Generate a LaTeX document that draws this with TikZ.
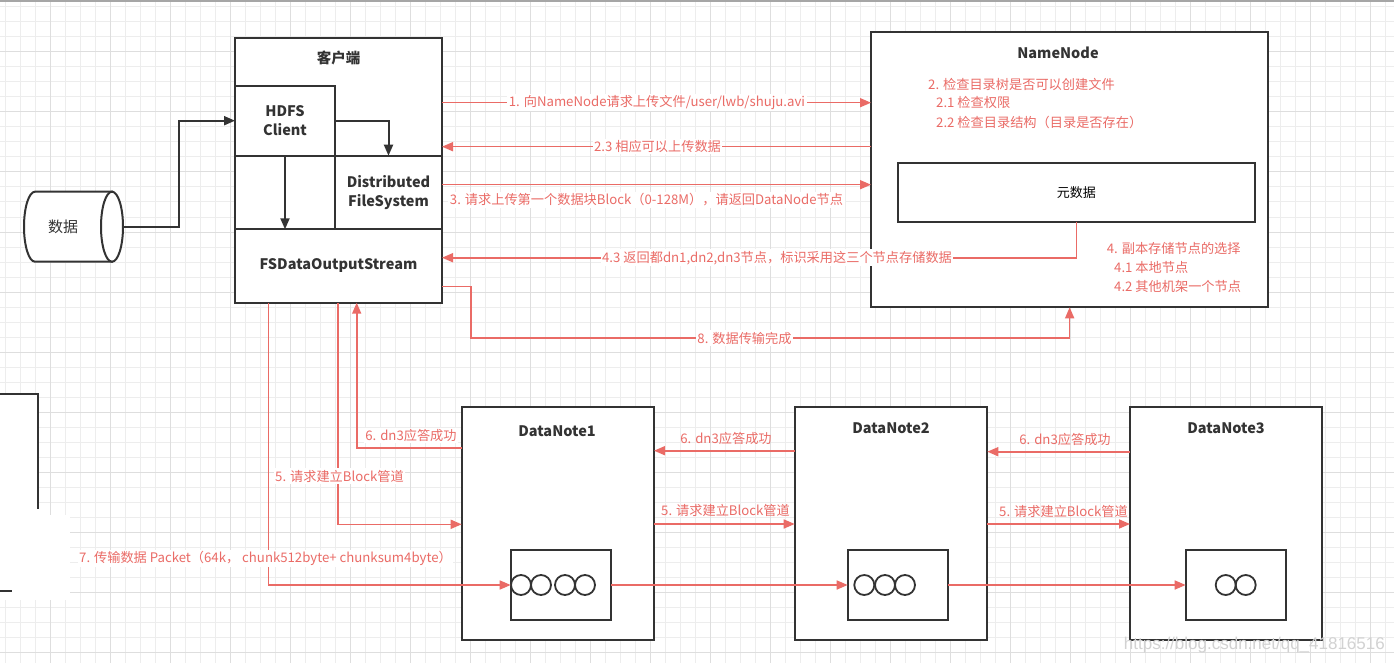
\documentclass[tikz,border=0pt]{standalone}
\usepackage{fontspec}
\setmainfont{Noto Sans CJK SC}
\newfontfamily\wmfont{Liberation Sans}
\usetikzlibrary{arrows.meta,calc}
\definecolor{rd}{HTML}{EA6B66}
\definecolor{dk}{HTML}{333333}
\definecolor{gmin}{HTML}{EDEDED}
\definecolor{gmaj}{HTML}{DEDEDE}
\begin{document}
\begin{tikzpicture}[x=1pt,y=-1pt,
  box/.style={draw=dk, line width=2pt, fill=white, inner sep=0pt, outer sep=0pt, anchor=north west},
  ttl/.style={font=\bfseries\fontsize{14.5}{17}\selectfont, text=dk, inner sep=0pt},
  btxt/.style={font=\bfseries\fontsize{14.5}{19}\selectfont, text=dk, align=center},
  rlab/.style={font=\fontsize{13.2}{16}\selectfont, text=rd, fill=white, inner sep=1.5pt},
  rtxt/.style={font=\fontsize{13.2}{16}\selectfont, text=rd, inner sep=0pt, anchor=west},
  rarr/.style={draw=rd, line width=1.6pt, -{Triangle[length=11pt,width=9pt]}},
  barr/.style={draw=dk, line width=2pt, -{Triangle[length=11pt,width=9pt]}},
  blob/.style={circle, draw=dk, line width=1.8pt, minimum size=20pt, inner sep=0pt}
]
\useasboundingbox (0,0) rectangle (1394,663);
\fill[white] (0,0) rectangle (1394,663);
% grid
\foreach \i in {0,...,92} \draw[gmin, line width=1pt] ({5.7+15*\i},0) -- ({5.7+15*\i},663);
\foreach \i in {0,...,43} \draw[gmin, line width=1pt] (0,{7+15*\i}) -- (1394,{7+15*\i});
\foreach \i in {0,...,22} \draw[gmaj, line width=1pt] ({50.7+60*\i},0) -- ({50.7+60*\i},663);
\foreach \i in {0,...,10} \draw[gmaj, line width=1pt] (0,{52+60*\i}) -- (1394,{52+60*\i});
\draw[gray!70, line width=1.5pt] (0,1) -- (1394,1);

% partial box at left edge
\fill[white] (-5,394) rectangle (38,591);
\fill[white] (0,515) rectangle (70,600);
\draw[dk, line width=2pt] (-5,394) -- (38,394) -- (38,509);
\draw[dk, line width=2pt] (-5,591) -- (12,591);

% client
\node[box, minimum width=207pt, minimum height=264.7pt] (client) at (235,38) {};
\node[ttl] (clientT) at (338.5,58) {客户端};
\node[box, minimum width=100pt, minimum height=70pt] (hdfs) at (235,85.7) {};
\node[btxt] (hdfsT) at (hdfs.center) {HDFS\\Client};
\node[box, minimum width=100pt, minimum height=73.6pt] (blank) at (235,155.7) {};
\node[box, minimum width=107pt, minimum height=73.6pt] (dfs) at (335,155.7) {};
\node[btxt] (dfsT) at (dfs.center) {Distributed\\FileSystem};
\node[box, minimum width=207pt, minimum height=73.4pt] (fsout) at (235,229.3) {};
\node[btxt] (fsoutT) at (fsout.center) {FSDataOutputStream};

% data cylinder
\node[minimum width=99pt, minimum height=70pt, inner sep=0pt] (data) at (73.5,226.7) {};
\draw[dk, line width=2pt, fill=white] (35,191.7) -- (112,191.7) -- (112,261.7) -- (35,261.7)
  arc[start angle=90, end angle=270, x radius=11, y radius=35] -- cycle;
\draw[dk, line width=2pt, fill=white] (112,226.7) ellipse[x radius=11, y radius=35];
\node[font=\fontsize{15}{18}\selectfont, text=dk] (dataT) at (63,227) {数据};

% black arrows
\coordinate (b1) at (179.3,0);
\draw[barr] (data.east) -| (b1 |- hdfs.west) -- (hdfs.west);
\draw[barr] (hdfs.east) -| (dfs.north);
\draw[barr] (hdfs.south) -- (hdfs.south |- fsout.north);

% NameNode
\node[box, minimum width=397.3pt, minimum height=275.3pt] (nn) at (871,32) {};
\node[ttl] (nnT) at (1058,52.7) {NameNode};
\node[rtxt] (n2) at (928,84) {2. 检查目录树是否可以创建文件};
\node[rtxt] (n21) at (936,102.7) {2.1 检查权限};
\node[rtxt] (n22) at (936,122.7) {2.2 检查目录结构（目录是否存在）};
\node[box, minimum width=357.3pt, minimum height=59pt] (meta) at (897.7,162.7) {};
\node[font=\fontsize{13}{16}\selectfont, text=black] (metaT) at (meta.center) {元数据};
\node[rtxt] (n4) at (1106.7,248.7) {4. 副本存储节点的选择};
\node[rtxt] (n41) at (1114,267.3) {4.1 本地节点};
\node[rtxt] (n42) at (1114,286.7) {4.2 其他机架一个节点};

% DataNodes
\node[box, minimum width=192.3pt, minimum height=233.3pt] (dn1) at (461.7,406.7) {};
\node[ttl] (dn1T) at (557,430.7) {DataNote1};
\node[box, minimum width=192.6pt, minimum height=233.3pt] (dn2) at (794.7,406.7) {};
\node[ttl] (dn2T) at (891,427.7) {DataNote2};
\node[box, minimum width=191.7pt, minimum height=233.3pt] (dn3) at (1130,406.7) {};
\node[ttl] (dn3T) at (1226,427.7) {DataNote3};
\node[box, minimum width=100.6pt, minimum height=70pt] (in1) at (510.7,550) {};
\node[box, minimum width=100.3pt, minimum height=70pt] (in2) at (847.7,550) {};
\node[box, minimum width=100.3pt, minimum height=70pt] (in3) at (1185.7,550) {};
\node[blob] (p11) at (521,585) {};
\node[blob] (p12) at (541,585) {};
\node[blob] (p13) at (565,585) {};
\node[blob] (p14) at (585,585) {};
\node[blob] (p21) at (864.3,585) {};
\node[blob] (p22) at (885,585) {};
\node[blob] (p23) at (905,585) {};
\node[blob] (p31) at (1225.7,585) {};
\node[blob] (p32) at (1245.7,585) {};

% red arrows top
\coordinate (y1) at (0,102.7);
\coordinate (y23) at (0,146.7);
\coordinate (y3) at (0,184.7);
\coordinate (y43) at (0,257.7);
\coordinate (y8) at (0,286.5);
\coordinate (c8a) at (470.8,338);
\coordinate (c8b) at (nn.south |- c8a);
\draw[rarr] (client.east |- y1) -- (nn.west |- y1);
\draw[rarr] (nn.west |- y23) -- (client.east |- y23);
\draw[rarr] (client.east |- y3) -- (nn.west |- y3);
\draw[rarr] (meta.south) |- (client.east |- y43);
\draw[rarr] (client.east |- y8) -| (c8a) -- (c8b) -- (nn.south);
\node[rlab] (l1) at (657,102.7) {1. 向NameNode请求上传文件/user/lwb/shuju.avi};
\node[rlab] (l23) at (657.5,146.7) {2.3 相应可以上传数据};
\node[rlab] (l3) at (646.5,200) {3. 请求上传第一个数据块Block（0-128M），请返回DataNode节点};
\node[rlab] (l43) at (777,257.7) {4.3 返回都dn1,dn2,dn3节点，标识采用这三个节点存储数据};
\node[rlab] (l8) at (744.5,338) {8. 数据传输完成};

% red arrows between datanodes
\coordinate (y6a) at (0,451.7);
\coordinate (y6b) at (0,450.7);
\coordinate (y5) at (0,524);
\draw[rarr] (dn3.west |- y6a) -- (dn2.east |- y6a);
\draw[rarr] (dn2.east |- y5) -- (dn3.west |- y5);
\draw[rarr] (dn2.west |- y6b) -- (dn1.east |- y6b);
\draw[rarr] (dn1.east |- y5) -- (dn2.west |- y5);
\draw[rarr] (in1.east) -- (in2.west);
\draw[rarr] (in2.east) -- (in3.west);
\node[rlab, fill=none] (l6c) at (1065,439.3) {6. dn3应答成功};
\node[rlab, fill=none] (l5c) at (1063.5,511.7) {5. 请求建立Block管道};
\node[rlab, fill=none] (l6b) at (726,438.3) {6. dn3应答成功};
\node[rlab, fill=none] (l5b) at (725.5,510) {5. 请求建立Block管道};

% client <-> DN1
\coordinate (x7) at (268.3,0);
\coordinate (x5) at (337.7,0);
\coordinate (x6) at (356.7,0);
\coordinate (y5a) at (0,524.3);
\coordinate (y6c) at (0,448);
\draw[rarr] (x7 |- client.south) |- (in1.west);
\draw[rarr] (x5 |- client.south) |- (dn1.west |- y5a);
\draw[rarr] (dn1.west |- y6c) -| (x6 |- client.south);
\node[rlab] (l7) at (265.5,558.3) {7. 传输数据 Packet（64k， chunk512byte+ chunksum4byte）};
\node[rlab] (l5a) at (339.5,476) {5. 请求建立Block管道};
\node[rlab] (l6a) at (411,435.7) {6. dn3应答成功};

% watermark
\node[font=\wmfont\fontsize{17}{20}\selectfont, text=gray!35, anchor=east, inner sep=0pt] (wm) at (1385,645) {https://blog.csdn.net/qq\_41816516};
\end{tikzpicture}
\end{document}
